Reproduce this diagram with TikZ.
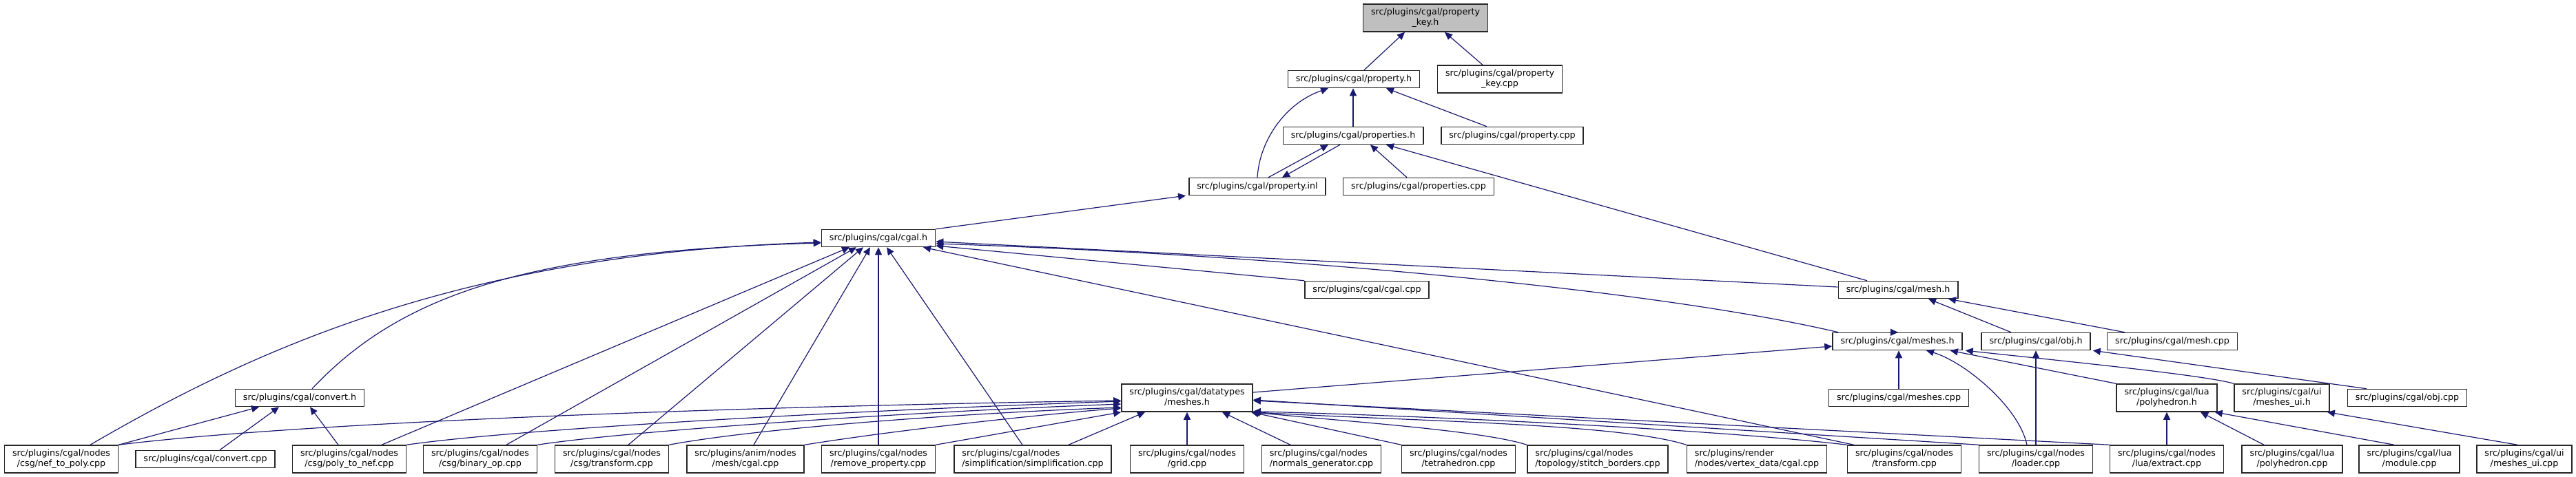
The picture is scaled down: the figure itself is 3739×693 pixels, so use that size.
\documentclass[tikz,border=0pt]{standalone}
\usepackage{fontspec}
\setmainfont{DejaVu Sans}
\usetikzlibrary{arrows.meta}
\definecolor{edgeblue}{HTML}{191970}
\definecolor{rootgrey}{HTML}{BFBFBF}
\definecolor{boxline}{HTML}{262626}
\newcommand{\twoline}[2]{\begin{tabular}{@{}l@{}}#1\\\multicolumn{1}{@{}c@{}}{#2}\end{tabular}}
\begin{document}
\begin{tikzpicture}[x=1pt,y=-1pt,
  box/.style={draw=boxline, line width=1.5pt, fill=white, inner xsep=11.5pt, inner ysep=0pt,
    font=\fontsize{12.7}{15}\selectfont, anchor=center},
  b1/.style={box, minimum height=25pt},
  b2/.style={box, minimum height=40pt},
  dep/.style={draw=edgeblue, line width=1.2pt, -{Triangle[length=11pt,width=10pt]}}]
\fill[white] (0,0) rectangle (3739,693);
\path[use as bounding box] (0,0) rectangle (3739,693);
% rank 0-3
\node[b2,fill=rootgrey] (pkh) at (2069,26) {\twoline{src/plugins/cgal/property}{\_key.h}};
\node[b1] (ph) at (1965,115) {src/plugins/cgal/property.h};
\node[b2] (pkcpp) at (2177,115) {\twoline{src/plugins/cgal/property}{\_key.cpp}};
\node[b1] (propsh) at (1964,197) {src/plugins/cgal/properties.h};
\node[b1] (pcpp) at (2195,197) {src/plugins/cgal/property.cpp};
\node[b1] (pinl) at (1825,271) {src/plugins/cgal/property.inl};
\node[b1] (propscpp) at (2059,271) {src/plugins/cgal/properties.cpp};
% rank 4-6
\node[b1] (cgalh) at (1275,346) {src/plugins/cgal/cgal.h};
\node[b1] (cgalcpp) at (1984,421) {src/plugins/cgal/cgal.cpp};
\node[b1] (meshh) at (2755,421) {src/plugins/cgal/mesh.h};
\node[b1] (meshesh) at (2754,496) {src/plugins/cgal/meshes.h};
\node[b1] (objh) at (2955,496) {src/plugins/cgal/obj.h};
\node[b1] (meshcpp) at (3153,496) {src/plugins/cgal/mesh.cpp};
% rank 7
\node[b1] (converth) at (435,578) {src/plugins/cgal/convert.h};
\node[b2] (dtmeshes) at (1723,578) {\twoline{src/plugins/cgal/datatypes}{/meshes.h}};
\node[b1] (meshescpp) at (2756,578) {src/plugins/cgal/meshes.cpp};
\node[b2] (polyh) at (3145,578) {\twoline{src/plugins/cgal/lua}{/polyhedron.h}};
\node[b2] (meshesuih) at (3312,578) {\twoline{src/plugins/cgal/ui}{/meshes\_ui.h}};
\node[b1] (objcpp) at (3494,578) {src/plugins/cgal/obj.cpp};
% rank 8
\node[b2] (neftopoly) at (89,667) {\twoline{src/plugins/cgal/nodes}{/csg/nef\_to\_poly.cpp}};
\node[b1] (convertcpp) at (298,667) {src/plugins/cgal/convert.cpp};
\node[b2] (polytonef) at (507,667) {\twoline{src/plugins/cgal/nodes}{/csg/poly\_to\_nef.cpp}};
\node[b2] (binop) at (697,667) {\twoline{src/plugins/cgal/nodes}{/csg/binary\_op.cpp}};
\node[b2] (csgtrans) at (888,667) {\twoline{src/plugins/cgal/nodes}{/csg/transform.cpp}};
\node[b2] (animcgal) at (1082,667) {\twoline{src/plugins/anim/nodes}{/mesh/cgal.cpp}};
\node[b2] (removeprop) at (1275,667) {\twoline{src/plugins/cgal/nodes}{/remove\_property.cpp}};
\node[b2] (simpl) at (1499,667) {\twoline{src/plugins/cgal/nodes}{/simplification/simplification.cpp}};
\node[b2] (grid) at (1723,667) {\twoline{src/plugins/cgal/nodes}{/grid.cpp}};
\node[b2] (normgen) at (1918,667) {\twoline{src/plugins/cgal/nodes}{/normals\_generator.cpp}};
\node[b2] (tetra) at (2117,667) {\twoline{src/plugins/cgal/nodes}{/tetrahedron.cpp}};
\node[b2] (stitch) at (2319,667) {\twoline{src/plugins/cgal/nodes}{/topology/stitch\_borders.cpp}};
\node[b2] (vdata) at (2550,667) {\twoline{src/plugins/render}{/nodes/vertex\_data/cgal.cpp}};
\node[b2] (ntrans) at (2764,667) {\twoline{src/plugins/cgal/nodes}{/transform.cpp}};
\node[b2] (loader) at (2955,667) {\twoline{src/plugins/cgal/nodes}{/loader.cpp}};
\node[b2] (extract) at (3145,667) {\twoline{src/plugins/cgal/nodes}{/lua/extract.cpp}};
\node[b2] (polycpp) at (3327,667) {\twoline{src/plugins/cgal/lua}{/polyhedron.cpp}};
\node[b2] (modulecpp) at (3497,667) {\twoline{src/plugins/cgal/lua}{/module.cpp}};
\node[b2] (uicpp) at (3664,667) {\twoline{src/plugins/cgal/ui}{/meshes\_ui.cpp}};
% edges: top part
\draw[dep] ([xshift=15pt]ph.north) -- ([xshift=-30pt]pkh.south);
\draw[dep] ([xshift=-25pt]pkcpp.north) -- ([xshift=28pt]pkh.south);
\draw[dep] (pinl.north) .. controls (1828,205) and (1865,150) .. ([xshift=-37pt]ph.south);
\draw[dep] (propsh.north) -- (propsh.north |- ph.south);
\draw[dep] ([xshift=-37pt]pcpp.north) -- ([xshift=47pt]ph.south);
\draw[dep] ([xshift=16pt]pinl.north) -- ([xshift=-36pt]propsh.south);
\draw[dep] ([xshift=-19pt]propsh.south) -- ([xshift=36pt]pinl.north);
\draw[dep] ([xshift=-17pt]propscpp.north) -- ([xshift=25pt]propsh.south);
\draw[dep] ([xshift=-45pt]meshh.north) -- ([xshift=48pt]propsh.south);
\draw[dep] (cgalh.north east) -- ([xshift=-4pt]pinl.south west);
% into cgal.h
\draw[dep] ([xshift=18pt]converth.north) .. controls (580,430) and (760,365) .. ([yshift=-7pt]cgalh.west);
\draw[dep] ([xshift=42pt]neftopoly.north) .. controls (390,495) and (690,368) .. ([yshift=-6pt]cgalh.west);
\draw[dep] ([xshift=47pt]polytonef.north) -- ([xshift=-42pt]cgalh.south);
\draw[dep] ([xshift=38pt]binop.north) -- ([xshift=-32pt]cgalh.south);
\draw[dep] ([xshift=24pt]csgtrans.north) -- ([xshift=-22pt]cgalh.south);
\draw[dep] ([xshift=12pt]animcgal.north) -- ([xshift=-12pt]cgalh.south);
\draw[dep] (removeprop.north) -- (cgalh.south);
\draw[dep] ([xshift=-15pt]simpl.north) -- ([xshift=12pt]cgalh.south);
\draw[dep] ([xshift=10pt]ntrans.north west) -- ([xshift=65pt]cgalh.south);
\draw[dep] (cgalcpp.north west) -- ([yshift=-11pt]cgalh.east);
\draw[dep] ([yshift=4pt]meshh.west) -- ([yshift=-5pt]cgalh.east);
\draw[dep] ([xshift=9pt]meshesh.north west) .. controls (2400,420) and (1850,370) .. ([yshift=-8pt]cgalh.east);
% mesh.h / meshes.h / obj.h
\draw[dep] (meshesh.north) -- (meshesh.north -| meshh.south);
\draw[dep] ([xshift=-36pt]objh.north) -- ([xshift=44pt]meshh.south);
\draw[dep] ([xshift=-69pt]meshcpp.north) -- ([xshift=73pt]meshh.south);
\draw[dep] ([yshift=8pt]dtmeshes.east) -- ([yshift=-7pt]meshesh.west);
\draw[dep] (meshescpp.north) -- (meshescpp.north |- meshesh.south);
\draw[dep] ([xshift=-13pt]loader.north) .. controls (2930,590) and (2850,525) .. ([xshift=42pt]meshesh.south);
\draw[dep] (loader.north) -- (loader.north |- objh.south);
\draw[dep] (polyh.north west) -- ([xshift=-18pt]meshesh.south east);
\draw[dep] (meshesuih.north west) .. controls (3200,545) and (3000,525) .. ([xshift=4pt]meshesh.south east);
\draw[dep] ([xshift=-59pt]objcpp.north) -- ([xshift=3pt]objh.south east);
\draw[dep] (extract.north) -- (polyh.south);
\draw[dep] ([xshift=-41pt]polycpp.north) -- ([xshift=49pt]polyh.south);
\draw[dep] ([xshift=-22pt]modulecpp.north) -- ([xshift=-4pt]polyh.south east);
\draw[dep] ([xshift=-10pt]uicpp.north) -- ([xshift=-4pt]meshesuih.south east);
% convert.h
\draw[dep] (neftopoly.north east) -- ([xshift=-59pt]converth.south);
\draw[dep] ([xshift=21pt]convertcpp.north) -- ([xshift=-30pt]converth.south);
\draw[dep] ([xshift=-16pt]polytonef.north) -- ([xshift=15pt]converth.south);
% into datatypes/meshes.h
\draw[dep] (neftopoly.north east) .. controls (450,612) and (1100,590) .. ([yshift=-4pt]dtmeshes.west);
\draw[dep] (polytonef.north east) .. controls (760,622) and (1250,596) .. ([yshift=-5pt]dtmeshes.west);
\draw[dep] (binop.north east) .. controls (920,625) and (1330,598) .. ([yshift=-9pt]dtmeshes.west);
\draw[dep] (csgtrans.north east) .. controls (1100,622) and (1400,600) .. ([yshift=-14pt]dtmeshes.west);
\draw[dep] (animcgal.north east) .. controls (1300,625) and (1500,603) .. ([yshift=-15pt]dtmeshes.west);
\draw[dep] (removeprop.north east) -- (dtmeshes.south west);
\draw[dep] ([xshift=52pt]simpl.north) -- ([xshift=-61pt]dtmeshes.south);
\draw[dep] (grid.north) -- (dtmeshes.south);
\draw[dep] ([xshift=-45pt]normgen.north) -- ([xshift=51pt]dtmeshes.south);
\draw[dep] (tetra.north west) -- ([xshift=-3pt]dtmeshes.south east);
\draw[dep] (stitch.north west) .. controls (2150,625) and (1950,612) .. ([xshift=-2pt]dtmeshes.south east);
\draw[dep] (vdata.north west) .. controls (2350,615) and (2050,612) .. ([xshift=-1pt]dtmeshes.south east);
\draw[dep] (ntrans.north west) .. controls (2500,625) and (2100,605) .. ([yshift=1pt]dtmeshes.south east);
\draw[dep] (loader.north west) -- ([yshift=-3pt]dtmeshes.east);
\draw[dep] (extract.north west) -- ([yshift=-4pt]dtmeshes.east);
\end{tikzpicture}
\end{document}
